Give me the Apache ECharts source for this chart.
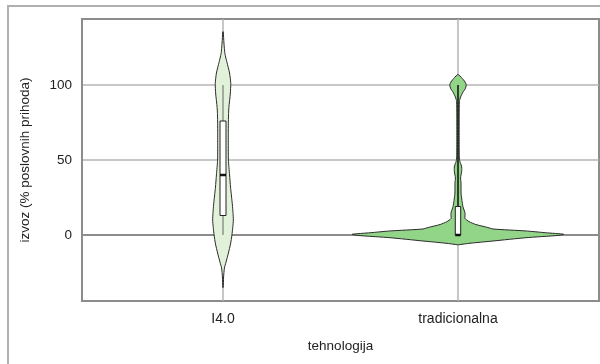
<!DOCTYPE html>
<html>
<head>
<meta charset="utf-8">
<script src="https://cdn.jsdelivr.net/npm/echarts@6/dist/echarts.min.js"></script>
<style>
html,body{margin:0;padding:0;background:#fff;}
#wrap{position:relative;width:600px;height:364px;overflow:hidden;}
#frame{position:absolute;left:7px;top:5px;width:620px;height:400px;border:2px solid #b0b0b0;box-sizing:border-box;}
#chart{position:absolute;left:0;top:0;width:600px;height:364px;}
</style>
</head>
<body>
<div id="wrap"><div id="frame"></div><div id="chart"></div></div>
<script>
// ---- data ----
const categories = ['I4.0', 'tradicionalna'];
const categoryPositions = [1, 2];
const yTickValues = [0, 50, 100];

// violin profiles: value (y) and half-width of density (in x-axis units)
const i40ViolinValues = [135.5, 128, 121, 115, 108, 101, 94, 85, 77, 65, 50, 40, 32, 20, 10, 0, -6, -12, -18, -22, -28, -35];
const i40ViolinWidths = [0.001, 0.004, 0.008, 0.017, 0.028, 0.033, 0.031, 0.025, 0.023, 0.0225, 0.023, 0.028, 0.032, 0.040, 0.044, 0.038, 0.032, 0.023, 0.013, 0.006, 0.0025, 0.001];

const tradViolinValues = [107, 105, 102, 100, 97.5, 95.5, 92, 89, 80, 65, 52, 49, 46, 43, 38, 34.5, 28, 23, 19, 14.5, 11, 8.9, 7, 5, 4, 2.7, 1.5, 0.5, -0.3, -1.8, -4, -5.5, -6.5];
const tradViolinWidths = [0.001, 0.015, 0.030, 0.035, 0.031, 0.022, 0.011, 0.006, 0.005, 0.005, 0.0055, 0.008, 0.015, 0.016, 0.011, 0.013, 0.013, 0.017, 0.021, 0.030, 0.030, 0.047, 0.076, 0.127, 0.149, 0.289, 0.374, 0.450, 0.425, 0.289, 0.149, 0.051, 0.002];

// box statistics: [lower whisker, q1, median, q3, upper whisker]
const i40Box = [0, 13, 40, 76, 100];
const tradBox = [0, 0, 0, 19, 100];

const violinValues = [i40ViolinValues, tradViolinValues];
const violinWidths = [i40ViolinWidths, tradViolinWidths];
const boxStats = [i40Box, tradBox];
const violinColors = ['#e2f2da', '#92d488'];

// ---- chart ----
const chart = echarts.init(document.getElementById('chart'), null, {renderer: 'canvas'});
const FONT = 'Liberation Sans, Arial, sans-serif';

function violinItem(params, api) {
  const i = params.dataIndex;
  const cx = categoryPositions[i];
  const vals = violinValues[i], ws = violinWidths[i];
  const right = [], left = [];
  for (let k = 0; k < vals.length; k++) {
    right.push(api.coord([cx + ws[k], vals[k]]));
  }
  for (let k = vals.length - 1; k >= 0; k--) {
    left.push(api.coord([cx - ws[k], vals[k]]));
  }
  return {
    type: 'polygon',
    shape: {points: right.concat(left), smooth: 0.2},
    style: {fill: violinColors[i], stroke: '#2b2b2b', lineWidth: 1}
  };
}

function boxItem(params, api) {
  const i = params.dataIndex;
  const cx = categoryPositions[i];
  const s = boxStats[i];
  const c = api.coord([cx, 0])[0];
  const hw = i === 0 ? 3 : 2.7;
  const yLo = api.coord([cx, s[0]])[1];
  const yQ1 = api.coord([cx, s[1]])[1];
  const yMed = api.coord([cx, s[2]])[1];
  const yQ3 = api.coord([cx, s[3]])[1];
  const yHi = api.coord([cx, s[4]])[1];
  const wColor = i === 0 ? '#666' : '#111';
  const wWidth = i === 0 ? 1 : 1.5;
  return {
    type: 'group',
    children: [
      {type: 'line', shape: {x1: c, y1: yQ3, x2: c, y2: yHi}, style: {stroke: wColor, lineWidth: wWidth}},
      {type: 'line', shape: {x1: c, y1: yLo, x2: c, y2: yQ1}, style: {stroke: wColor, lineWidth: wWidth}},
      {type: 'rect', shape: {x: c - hw, y: yQ3, width: hw * 2, height: Math.max(yQ1 - yQ3, 1)},
        style: {fill: '#ffffff', stroke: '#222', lineWidth: 1}},
      {type: 'line', shape: {x1: c - hw, y1: yMed, x2: c + hw, y2: yMed}, style: {stroke: '#111', lineWidth: 2.5}}
    ]
  };
}

chart.setOption({
  animation: false,
  backgroundColor: 'transparent',
  grid: {left: 82, right: 1, top: 19, bottom: 63, show: true, borderColor: '#8c8c8c', borderWidth: 2},
  xAxis: {
    type: 'value', min: 0.4, max: 2.6,
    name: 'tehnologija', nameLocation: 'middle', nameGap: 38,
    nameTextStyle: {fontFamily: FONT, fontSize: 13.5, color: '#222'},
    axisLine: {show: true, lineStyle: {color: '#8c8c8c', width: 2}},
    axisTick: {show: false, customValues: categoryPositions},
    axisLabel: {customValues: categoryPositions, margin: 11, fontFamily: FONT, fontSize: 14, color: '#222',
      formatter: v => categories[categoryPositions.indexOf(Math.round(v))] || ''},
    splitLine: {show: true, lineStyle: {color: '#b4b4b4', width: 1.5}}
  },
  yAxis: {
    type: 'value', min: -44, max: 144,
    name: 'izvoz (% poslovnih prihoda)', nameLocation: 'middle', nameGap: 50, nameRotate: 90,
    nameTextStyle: {fontFamily: FONT, fontSize: 13.5, color: '#222'},
    axisLine: {show: true, lineStyle: {color: '#8c8c8c', width: 2}},
    axisTick: {show: false, customValues: yTickValues},
    axisLabel: {customValues: yTickValues, margin: 10, fontFamily: FONT, fontSize: 13.5, color: '#222'},
    splitLine: {show: true, lineStyle: {color: '#b4b4b4', width: 1.5}}
  },
  series: [
    {type: 'custom', name: 'violin', renderItem: violinItem, data: categoryPositions.map((p, i) => [p, i]), z: 2,
      encode: {x: 0, y: 1}, clip: true, silent: true},
    {type: 'custom', name: 'box', renderItem: boxItem, data: categoryPositions.map((p, i) => [p, boxStats[i][2]]), z: 3,
      encode: {x: 0, y: 1}, clip: true, silent: true}
  ]
});
</script>
</body>
</html>
